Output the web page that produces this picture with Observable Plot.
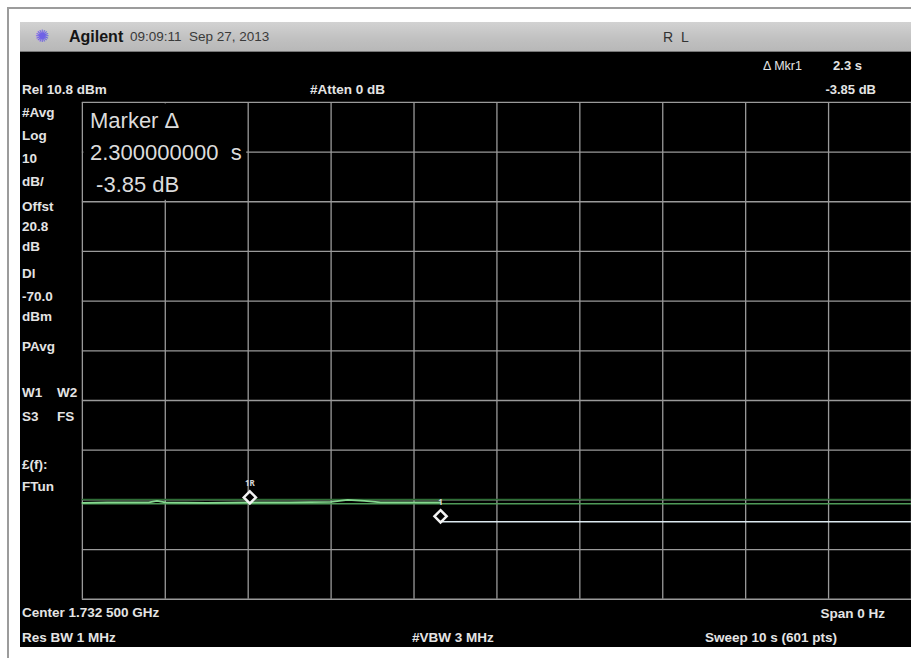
<!DOCTYPE html>
<html>
<head>
<meta charset="utf-8">
<script src="https://cdn.jsdelivr.net/npm/d3@7"></script>
<script src="https://cdn.jsdelivr.net/npm/@observablehq/plot@0.6"></script>
<style>
  html, body { margin: 0; padding: 0; }
  body { background: #fff; width: 911px; height: 658px; overflow: hidden; position: relative;
         font-family: "Liberation Sans", Arial, sans-serif; }
  .line { position: absolute; background: #9c9c9c; }
  #header { position: absolute; left: 20px; top: 22px; width: 891px; height: 30px;
            background: linear-gradient(#d2d2d2, #c0c0c0 60%, #b8b8b8); border-bottom: 1px solid #777; box-sizing: border-box; }
  #screen { position: absolute; left: 20px; top: 52px; width: 891px; height: 595px; background: #000; overflow: hidden; }
  #screen svg { display: block; }
  .t { position: absolute; white-space: pre; line-height: 1; }
  .side { color: #e4e4e4; font-weight: bold; font-size: 13.5px; }
  .big { color: #dcdcdc; font-size: 22px; }
  .hdr { color: #2a2a2a; }
</style>
</head>
<body>
<div class="line" style="left:7px;top:7px;width:904px;height:2px"></div>
<div class="line" style="left:7px;top:7px;width:2px;height:651px"></div>
<div id="header"></div>
<div id="screen"></div>
<div id="texts"></div>
<script>
// ---------------- DATA ----------------
// Sweep time (s) – zero span, 10 s sweep, 10 divisions
const timeDivisions = [0, 1, 2, 3, 4, 5, 6, 7, 8, 9, 10];
// Amplitude graticule (dBm) – Ref 10.8 dBm, 10 dB/div
const levelDivisions = [10.8, 0.8, -9.2, -19.2, -29.2, -39.2, -49.2, -59.2, -69.2, -79.2, -89.2];

// Trace 1 (green, up to the delta marker)
const trace1Time  = [0, 0.3, 0.8, 0.9, 1.0, 1.5, 2.0, 2.5, 3.0, 3.2, 3.4, 3.6, 4.0, 4.32];
const trace1Level = [-69.8, -69.7, -69.7, -69.4, -69.7, -69.8, -69.7, -69.7, -69.6, -69.2, -69.4, -69.7, -69.7, -69.7];
// Trace 2 (dim green, full sweep)
const trace2Time  = [0, 10];
const trace2Level = [-69.1, -69.1];
// Display line DL -70.0 dBm
const displayLineLevel = -70.0;
// Trace 3 (white, after the delta marker)
const trace3Time  = [4.32, 10];
const trace3Level = [-73.6, -73.6];

// Markers
const markerLabels = ["1R", "1"];
const markerTimes  = [2.02, 4.32];
const markerLevels = [-68.7, -72.5];

// Text
const headerBrand = "Agilent";
const headerDate = "09:09:11  Sep 27, 2013";
const headerMode = "R  L";
const refLevelText = "Rel 10.8 dBm";
const attenText = "#Atten 0 dB";
const mkrTitle = "\u0394 Mkr1";
const mkrTime = "2.3 s";
const mkrDelta = "-3.85 dB";
const readoutLines = ["Marker \u0394", "2.300000000  s", " -3.85 dB"];
const sidePanel = ["#Avg", "Log", "10", "dB/", "Offst", "20.8", "dB", "Dl", "-70.0", "dBm", "PAvg", "W1", "S3", "\u00a3(f):", "FTun"];
const sidePanel2 = ["W2", "FS"];
const bottomLeft = ["Center 1.732 500 GHz", "Res BW 1 MHz"];
const bottomMid = "#VBW 3 MHz";
const bottomRight = ["Span 0 Hz", "Sweep 10 s (601 pts)"];

// ---------------- CHART ----------------
const green = "#86d890", dimGreen = "#2f6d37", dlGreen = "#4f9a58", white = "#dce9f0", grid = "#9a9a9a";
const t1 = trace1Time.map((t, i) => ({t, v: trace1Level[i]}));
const t2 = trace2Time.map((t, i) => ({t, v: trace2Level[i]}));
const t3 = trace3Time.map((t, i) => ({t, v: trace3Level[i]}));
const dl = [{t: timeDivisions[0], v: displayLineLevel}, {t: timeDivisions[10], v: displayLineLevel}];
const mk = markerLabels.map((l, i) => ({l, t: markerTimes[i], v: markerLevels[i]}));
const box = [{x1: timeDivisions[0], x2: timeDivisions[2], y1: levelDivisions[2], y2: levelDivisions[0]}];

const chart = Plot.plot({
  width: 893, height: 595,
  marginLeft: 62, marginRight: 0, marginTop: 50, marginBottom: 47,
  style: {background: "#000", overflow: "visible"},
  x: {domain: [0, 10], axis: null},
  y: {domain: [-89.2, 10.8], axis: null},
  marks: [
    Plot.ruleX(timeDivisions, {stroke: grid, strokeWidth: 1.3}),
    Plot.ruleY(levelDivisions, {stroke: grid, strokeWidth: 1.3}),
    Plot.rect(box, {x1: "x1", x2: "x2", y1: "y1", y2: "y2", fill: "#000", inset: 1.5}),
    Plot.line(t2, {x: "t", y: "v", stroke: dimGreen, strokeWidth: 1.5}),
    Plot.line(dl, {x: "t", y: "v", stroke: dlGreen, strokeWidth: 1.5}),
    Plot.line(t1, {x: "t", y: "v", stroke: green, strokeWidth: 1.6}),
    Plot.line(t3, {x: "t", y: "v", stroke: white, strokeWidth: 1.6}),
    Plot.dot(mk, {x: "t", y: "v", symbol: "diamond2", r: 5.5, stroke: "#f2f2f2", strokeWidth: 2.5, fill: "#000"}),
    Plot.text(mk, {x: "t", y: "v", text: "l", dy: -14, fill: "#d8d8d8", fontSize: 8, fontWeight: "bold"})
  ]
});
document.getElementById("screen").appendChild(chart);

// ---------------- TEXT LAYOUT ----------------
const T = document.getElementById("texts");
function put(text, cls, x, yc, fs, opts = {}) {
  const d = document.createElement("div");
  d.className = "t " + cls;
  d.textContent = text;
  d.style.fontSize = fs + "px";
  d.style.top = (yc - fs * 0.52) + "px";
  if (opts.right != null) { d.style.right = (911 - opts.right) + "px"; d.style.textAlign = "right"; }
  else d.style.left = x + "px";
  if (opts.color) d.style.color = opts.color;
  if (opts.weight) d.style.fontWeight = opts.weight;
  if (opts.family) d.style.fontFamily = opts.family;
  if (opts.ls != null) d.style.letterSpacing = opts.ls + "px";
  T.appendChild(d);
  return d;
}
// header
put("\u273A", "hdr", 35, 37, 17, {color: "#6f62e6", family: "DejaVu Sans"});
put(headerBrand, "hdr", 69, 37, 16, {weight: "bold", color: "#151515"});
put(headerDate, "hdr", 130, 37, 13.5, {color: "#3a3a3a"});
put(headerMode, "hdr", 663, 37, 14, {color: "#333"});
// top info
put(refLevelText, "side", 22, 90, 13.5);
put(attenText, "side", 310, 90, 13.5);
put(mkrTitle, "side", 763, 66, 12.5, {weight: "normal"});
put(mkrTime, "side", 0, 66, 13, {right: 862});
put(mkrDelta, "side", 0, 90, 13, {right: 876});
// side panel
const sideY = [113, 136, 159, 182, 207, 227, 247, 274, 297, 317, 347, 393, 417, 465, 487];
sidePanel.forEach((s, i) => put(s, "side", 22, sideY[i], 13.5));
put(sidePanel2[0], "side", 57, sideY[11], 13.5);
put(sidePanel2[1], "side", 57, sideY[12], 13.5);
// marker readout
const readY = [121, 153, 185];
readoutLines.forEach((s, i) => put(s, "big", 90, readY[i], 22));
// bottom
put(bottomLeft[0], "side", 22, 613, 13.5);
put(bottomLeft[1], "side", 22, 638, 13.5);
put(bottomMid, "side", 412, 638, 13.5);
put(bottomRight[0], "side", 0, 614, 13.5, {right: 885});
put(bottomRight[1], "side", 705, 638, 13.5);
</script>
</body>
</html>
